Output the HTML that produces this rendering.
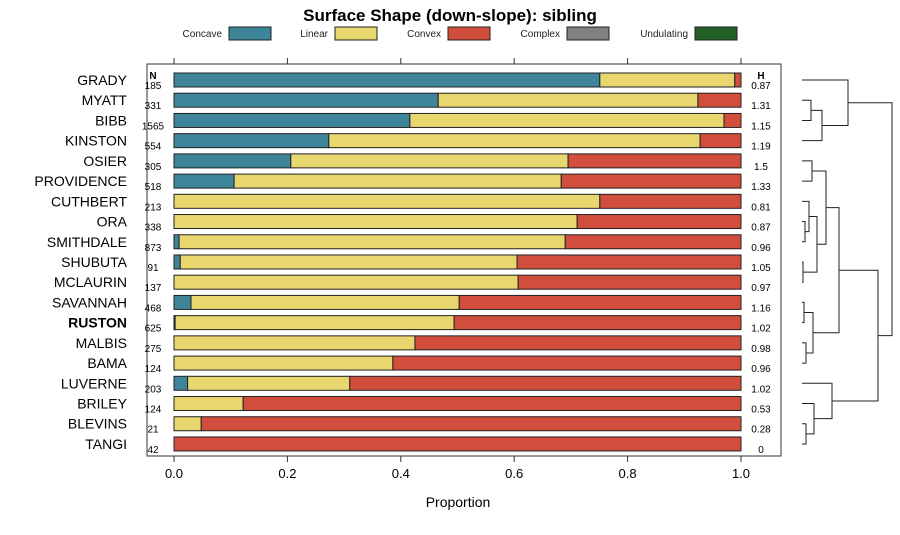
<!DOCTYPE html>
<html><head><meta charset="utf-8"><style>
body{margin:0;background:#fff;width:900px;height:530px;overflow:hidden}
text{font-family:"Liberation Sans",sans-serif}
</style></head><body>
<svg id="chart" width="900" height="530" xmlns="http://www.w3.org/2000/svg"></svg>
<script>
const categories=["GRADY","MYATT","BIBB","KINSTON","OSIER","PROVIDENCE","CUTHBERT","ORA","SMITHDALE","SHUBUTA","MCLAURIN","SAVANNAH","RUSTON","MALBIS","BAMA","LUVERNE","BRILEY","BLEVINS","TANGI"];
const concave=[0.751,0.466,0.416,0.273,0.206,0.106,0,0,0.009,0.011,0,0.030,0.002,0,0,0.024,0,0,0];
const linear=[0.238,0.458,0.554,0.655,0.489,0.577,0.751,0.711,0.681,0.594,0.607,0.473,0.492,0.425,0.386,0.286,0.122,0.048,0];
const counts=["185","331","1565","554","305","518","213","338","873","91","137","468","625","275","124","203","124","21","42"];
const entropy=["0.87","1.31","1.15","1.19","1.5","1.33","0.81","0.87","0.96","1.05","0.97","1.16","1.02","0.98","0.96","1.02","0.53","0.28","0"];
const ticks=[0,0.2,0.4,0.6,0.8,1.0];
const legendNames=["Concave","Linear","Convex","Complex","Undulating"];
const colors=["#3f8599","#e8d66e","#d14e3d","#808080","#246127"];
// dendrogram merges: [left, right, height(px x)]; leaves are indices, nodes are "n"+k
const merges=[[1,2,811],["n0",3,822],[0,"n1",848],[4,5,812],[7,8,805],[6,"n4",809],[9,10,803],["n5","n6",817],["n3","n7",826],[11,12,804],[13,14,806],["n9","n10",813],["n8","n11",839],[17,18,806],[16,"n13",814],[15,"n14",832],["n12","n15",878],["n2","n16",892]];

const svg=document.getElementById('chart');
const NS="http://www.w3.org/2000/svg";
function el(t,a,txt){const e=document.createElementNS(NS,t);for(const k in a)e.setAttribute(k,a[k]);if(txt!==undefined)e.textContent=txt;svg.appendChild(e);return e;}
const X0=174,X1=741;
const xs=v=>X0+v*(X1-X0);
const ys=i=>80+i*20.22;
const BH=14;

let t=el('text',{x:450,y:21,'text-anchor':'middle','font-size':17,'font-weight':'bold'},'Surface Shape (down-slope): sibling');


const legX=[229,335,448,567,695];
legendNames.forEach((n,k)=>{
  const tx=el('text',{x:legX[k]-7,y:37,'text-anchor':'end','font-size':10,fill:'#222'},n);
  
  
  const r=el('rect',{x:legX[k],y:27,width:42,height:13,fill:colors[k],stroke:'#222','stroke-width':1});
  
  
});
const frame=el('rect',{x:147,y:64,width:634,height:392,fill:'none',stroke:'#333','stroke-width':1});


ticks.forEach(v=>{
  el('line',{x1:xs(v),x2:xs(v),y1:58,y2:64,stroke:'#333'});
  el('line',{x1:xs(v),x2:xs(v),y1:456,y2:462,stroke:'#333'});
  const tl=el('text',{x:xs(v),y:478,'text-anchor':'middle','font-size':13},v.toFixed(1));
  
  
});
const xt=el('text',{x:458,y:507,'text-anchor':'middle','font-size':14},'Proportion');


el('text',{x:153,y:79,'text-anchor':'middle','font-size':10,'font-weight':'bold'},'N');
el('text',{x:761,y:79,'text-anchor':'middle','font-size':10,'font-weight':'bold'},'H');
categories.forEach((c,i)=>{
  const y=ys(i);
  const lab=el('text',{x:127,y:y+5,'text-anchor':'end','font-size':14,'font-weight':c==='RUSTON'?'bold':'normal'},c);
  
  
  const n=el('text',{x:153,y:y+9,'text-anchor':'middle','font-size':10},counts[i]);
  
  
  const h=el('text',{x:761,y:y+9,'text-anchor':'middle','font-size':10},entropy[i]);
  
  
  const vals=[concave[i],linear[i],Math.max(0,1-concave[i]-linear[i])];
  let acc=0;
  vals.forEach((v,k)=>{
    if(v<=0)return;
    const r=el('rect',{x:xs(acc),y:y-BH/2,width:xs(acc+v)-xs(acc),height:BH,fill:colors[k],stroke:'#222','stroke-width':1});
    
    
    acc+=v;
  });
});
// dendrogram
const LEAFX=802;
const nodes={};
function pos(id){if(typeof id==='number')return {x:LEAFX,y:ys(id)};return nodes[id];}
merges.forEach((m,k)=>{
  const a=pos(m[0]),b=pos(m[1]),h=m[2];
  const p=el('path',{d:`M${a.x},${a.y}H${h}V${b.y}H${b.x}`,fill:'none',stroke:'#222','stroke-width':1});
  
  
  nodes['n'+k]={x:h,y:(a.y+b.y)/2};
});
</script>
</body></html>
